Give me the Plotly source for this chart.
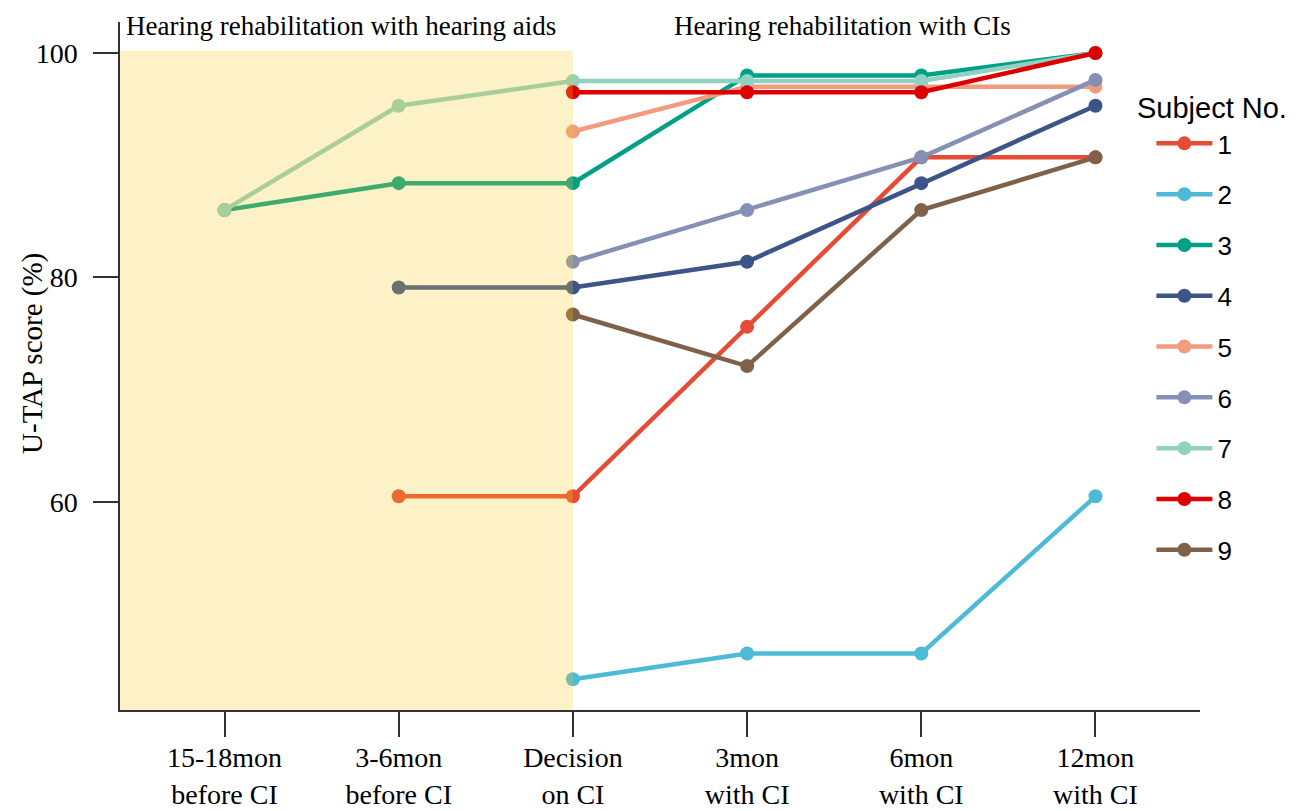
import plotly.graph_objects as go

# Time points of the assessment
timepoints = [
    "15-18mon<br>before CI",
    "3-6mon<br>before CI",
    "Decision<br>on CI",
    "3mon<br>with CI",
    "6mon<br>with CI",
    "12mon<br>with CI",
]

# U-TAP scores (%) per subject; None = not assessed
s1 = [None, 60.5, 60.5, 75.6, 90.7, 90.7]
s2 = [None, None, 44.2, 46.5, 46.5, 60.5]
s3 = [86.0, 88.4, 88.4, 98.0, 98.0, 100.0]
s4 = [None, 79.1, 79.1, 81.4, 88.4, 95.3]
s5 = [None, None, 93.0, 97.0, 97.0, 97.0]
s6 = [None, None, 81.4, 86.0, 90.7, 97.6]
s7 = [86.0, 95.3, 97.5, 97.5, 97.5, 100.0]
s8 = [None, None, 96.5, 96.5, 96.5, 100.0]
s9 = [None, None, 76.7, 72.1, 86.0, 90.7]

subjects = ["1", "2", "3", "4", "5", "6", "7", "8", "9"]
scores = [s1, s2, s3, s4, s5, s6, s7, s8, s9]
colors = ["#E64B35", "#4DBBD5", "#00A087", "#3C5488", "#F39B7F",
          "#8491B4", "#91D1C2", "#DC0000", "#7E6148"]

serif = "Liberation Serif, Times New Roman, serif"
sans = "Liberation Sans, Arial, sans-serif"

fig = go.Figure()
for name, ys, col in zip(subjects, scores, colors):
    fig.add_trace(go.Scatter(
        x=timepoints, y=ys, name=name, legendgroup=name,
        mode="lines+markers",
        line=dict(color=col, width=4.5),
        marker=dict(color=col, size=14),
    ))

# Hearing-aid period: translucent wash laid over the lines
fig.add_shape(type="rect", xref="x", yref="y",
              x0=-0.6, x1=2, y0=41.46, y1=100.2,
              fillcolor="rgb(248,200,36)", opacity=0.25,
              line=dict(width=0), layer="above")

fig.add_annotation(text="Hearing rehabilitation with hearing aids",
                   xref="x", yref="paper", x=0.67, y=0.994,
                   showarrow=False, font=dict(family=serif, size=27, color="black"),
                   xanchor="center", yanchor="middle")
fig.add_annotation(text="Hearing rehabilitation with CIs",
                   xref="x", yref="paper", x=3.55, y=0.994,
                   showarrow=False, font=dict(family=serif, size=27, color="black"),
                   xanchor="center", yanchor="middle")
fig.add_annotation(text="U-TAP score (%)", textangle=-90,
                   xref="paper", yref="paper", x=-0.0806, y=0.519,
                   showarrow=False, font=dict(family=serif, size=29, color="black"),
                   xanchor="center", yanchor="middle")
fig.add_annotation(text="Subject No.",
                   xref="paper", yref="paper", x=0.94, y=0.875,
                   showarrow=False, font=dict(family=sans, size=29, color="black"),
                   xanchor="left", yanchor="middle")

fig.update_layout(
    width=1305, height=811,
    margin=dict(l=120, r=105, t=22, b=101),
    plot_bgcolor="white", paper_bgcolor="white",
    showlegend=True,
    legend=dict(x=0.955, y=0.8576, xanchor="left", yanchor="top",
                bgcolor="rgba(0,0,0,0)", tracegroupgap=14, itemwidth=56,
                font=dict(family=sans, size=26, color="black")),
)
fig.update_xaxes(
    range=[-0.6, 5.6], showgrid=False, zeroline=False, automargin=False,
    showline=True, linecolor="#333333", linewidth=1.5,
    ticks="outside", ticklen=25, tickwidth=1.5, tickcolor="#333333",
    ticklabelstandoff=-3,
    tickfont=dict(family=serif, size=28, color="black"),
)
fig.update_yaxes(
    range=[41.46, 102.76], showgrid=False, zeroline=False, automargin=False,
    showline=True, linecolor="#333333", linewidth=1.5,
    ticks="outside", ticklen=25, tickwidth=1.5, tickcolor="#333333",
    ticklabelstandoff=10,
    tickvals=[60, 80, 100],
    tickfont=dict(family=serif, size=28, color="black"),
)

fig.write_html("out.html")
